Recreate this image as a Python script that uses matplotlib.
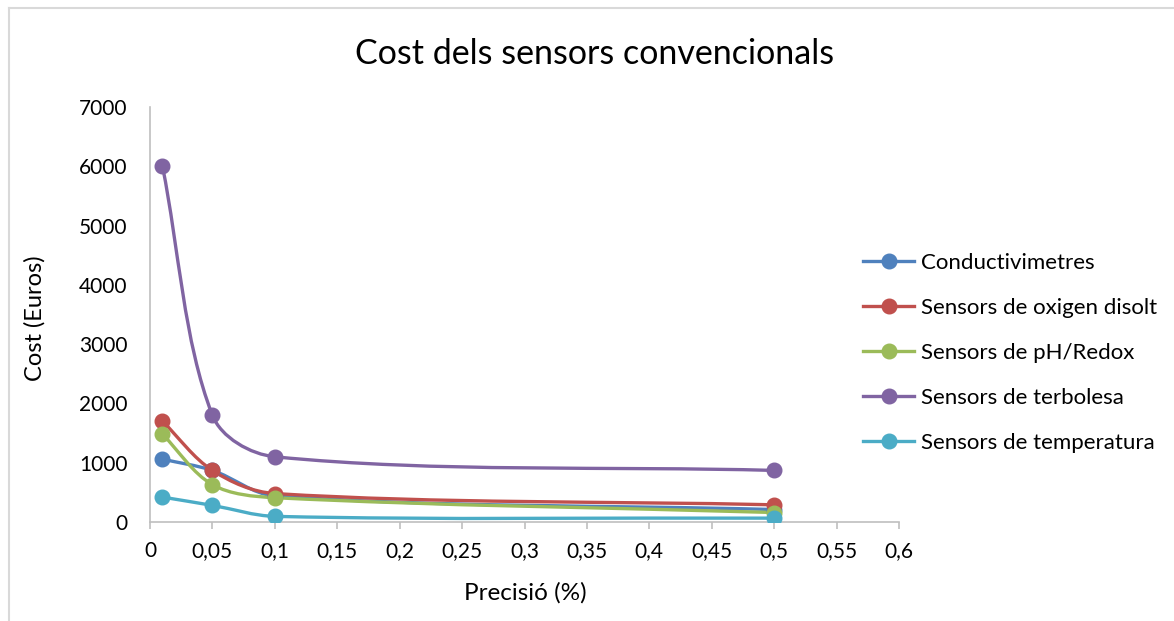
import numpy as np
import matplotlib
matplotlib.use("Agg")
import matplotlib.pyplot as plt
from matplotlib.path import Path
from matplotlib.patches import PathPatch
from matplotlib.lines import Line2D

plt.rcParams['font.family'] = ['Lato', 'DejaVu Sans']

# ---- data ----
precision = [0.01, 0.05, 0.1, 0.5]
conductivimetres = [1060, 870, 440, 210]
oxigen = [1700, 870, 480, 290]
ph_redox = [1480, 630, 410, 160]
terbolesa = [6000, 1800, 1100, 870]
temperatura = [420, 280, 95, 65]

series_names = ["Conductivimetres", "Sensors de oxigen disolt", "Sensors de pH/Redox",
                "Sensors de terbolesa", "Sensors de temperatura"]
series_values = [conductivimetres, oxigen, ph_redox, terbolesa, temperatura]
colors = ["#4F81BD", "#C0504D", "#9BBB59", "#8064A2", "#4BACC6"]

x_ticks = [0, 0.05, 0.1, 0.15, 0.2, 0.25, 0.3, 0.35, 0.4, 0.45, 0.5, 0.55, 0.6]
x_tick_labels = ["0", "0,05", "0,1", "0,15", "0,2", "0,25", "0,3", "0,35", "0,4",
                 "0,45", "0,5", "0,55", "0,6"]
y_ticks = [0, 1000, 2000, 3000, 4000, 5000, 6000, 7000]

W, H = 1174, 621
fig = plt.figure(figsize=(W / 100, H / 100), dpi=100)
ax = fig.add_axes([150 / W, 1 - 522 / H, (899 - 150) / W, (522 - 107) / H])
ax.set_xlim(0, 0.6)
ax.set_ylim(0, 7000)

def smooth_path(xs, ys):
    pts = ax.transData.transform(np.column_stack([xs, ys]))
    n = len(pts)
    verts = [pts[0]]
    codes = [Path.MOVETO]
    for i in range(n - 1):
        p0 = pts[i - 1] if i > 0 else pts[i]
        p1 = pts[i]
        p2 = pts[i + 1]
        p3 = pts[i + 2] if i + 2 < n else pts[i + 1]
        d01 = np.linalg.norm(p1 - p0)
        d12 = np.linalg.norm(p2 - p1)
        d23 = np.linalg.norm(p3 - p2)
        f1 = d12 / (d01 + d12) / 3 if (d01 + d12) > 0 else 0
        f2 = d12 / (d12 + d23) / 3 if (d12 + d23) > 0 else 0
        c1 = p1 + (p2 - p0) * f1
        c2 = p2 - (p3 - p1) * f2
        verts += [c1, c2, p2]
        codes += [Path.CURVE4] * 3
    verts = ax.transData.inverted().transform(np.array(verts))
    return Path(verts, codes)

for name, vals, col in zip(series_names, series_values, colors):
    path = smooth_path(precision, vals)
    ax.add_patch(PathPatch(path, facecolor='none', edgecolor=col, lw=2.4,
                           capstyle='round', joinstyle='round', zorder=3))
    ax.plot(precision, vals, linestyle='none', marker='o', markersize=10.5,
            color=col, zorder=4)

ax.set_xticks(x_ticks)
ax.set_xticklabels(x_tick_labels)
ax.set_yticks(y_ticks)
ax.set_yticklabels([str(v) for v in y_ticks])

for s in ['top', 'right']:
    ax.spines[s].set_visible(False)
for s in ['left', 'bottom']:
    ax.spines[s].set_color('#BFBFBF')
    ax.spines[s].set_linewidth(1.2)
ax.tick_params(axis='x', direction='out', length=5, width=1.2, color='#BFBFBF',
               labelsize=15, pad=9, labelcolor='black')
ax.tick_params(axis='y', length=0, labelsize=15, pad=16, labelcolor='black')

ax.set_xlabel("Precisió (%)", fontsize=17.5)
ax.set_ylabel("Cost (Euros)", fontsize=17)
ax.xaxis.set_label_coords((525 - 150) / (899 - 150), (522 - 593) / (522 - 107))
ax.xaxis.label.set_va('center')
ax.yaxis.set_label_coords((35 - 150) / (899 - 150), (522 - 318) / (522 - 107))
ax.yaxis.label.set_va('center')

fig.text(595 / W, 1 - 54 / H, "Cost dels sensors convencionals", fontsize=24.5,
         ha='center', va='center')

handles = [Line2D([0], [0], color=c, lw=2.4, marker='o', markersize=10.5) for c in colors]
fig.legend(handles, series_names, loc='center left',
           bbox_to_anchor=(852 / W, 1 - 353 / H), frameon=False, fontsize=16,
           handlelength=2.3, handletextpad=0.3, labelspacing=1.12, borderpad=0)

# outer chart border (partially cropped)
fig.add_artist(Line2D([8.5 / W, 8.5 / W], [0, 1 - 7.5 / H], color='#D9D9D9', lw=1.5,
                      transform=fig.transFigure))
fig.add_artist(Line2D([8.5 / W, 1], [1 - 7.5 / H, 1 - 7.5 / H], color='#D9D9D9', lw=1.5,
                      transform=fig.transFigure))

fig.savefig("out.png", dpi=100)
